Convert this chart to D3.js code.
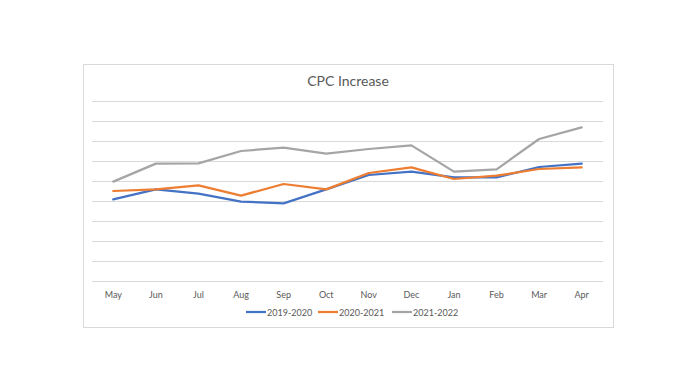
<html>
<head>
<script src="https://d3js.org/d3.v7.min.js"></script>
<style>
  body { margin: 0; background: #fff; }
  text { font-family: Lato, "Open Sans", sans-serif; fill: #595959; }
</style>
</head>
<body>
<svg id="chart" width="696" height="392"></svg>
<script>
var months = ["May", "Jun", "Jul", "Aug", "Sep", "Oct", "Nov", "Dec", "Jan", "Feb", "Mar", "Apr"];
var s2019 = [4.08, 4.58, 4.37, 3.97, 3.88, 4.58, 5.30, 5.47, 5.18, 5.18, 5.70, 5.87];
var s2020 = [4.50, 4.58, 4.78, 4.27, 4.85, 4.58, 5.40, 5.68, 5.10, 5.27, 5.60, 5.68];
var s2021 = [4.97, 5.87, 5.88, 6.50, 6.67, 6.37, 6.60, 6.78, 5.47, 5.58, 7.10, 7.68];
var seriesNames = ["2019-2020", "2020-2021", "2021-2022"];
var colors = ["#4472C4", "#ED7D31", "#A5A5A5"];
var yTicks = [0, 1, 2, 3, 4, 5, 6, 7, 8, 9];

var svg = d3.select("#chart");

// outer chart frame
svg.append("rect")
  .attr("x", 83.5).attr("y", 64.5)
  .attr("width", 530).attr("height", 263)
  .attr("fill", "#fff")
  .attr("stroke", "#d9d9d9");

var x = d3.scaleBand().domain(months).range([92, 603]);
var y = d3.scaleLinear().domain([0, 9]).range([281, 101]);

// gridlines
svg.append("g")
  .selectAll("line")
  .data(yTicks)
  .enter().append("line")
  .attr("x1", 92).attr("x2", 603)
  .attr("y1", function(d) { return Math.round(y(d)) + 0.5; })
  .attr("y2", function(d) { return Math.round(y(d)) + 0.5; })
  .attr("stroke", "#d9d9d9")
  .attr("stroke-width", 1);

// x axis labels
var xAxis = svg.append("g")
  .attr("transform", "translate(0,281)")
  .call(d3.axisBottom(x).tickSize(0).tickPadding(11));
xAxis.select(".domain").remove();
xAxis.selectAll("text")
  .style("font-family", "Lato, 'Open Sans', sans-serif")
  .style("font-size", "9px")
  .attr("fill", "#595959");

// title
svg.append("text")
  .attr("x", 348).attr("y", 86)
  .attr("text-anchor", "middle")
  .style("font-size", "14px")
  .text("CPC Increase");

// lines
var line = d3.line()
  .x(function(d, i) { return x(months[i]) + x.bandwidth() / 2; })
  .y(function(d) { return y(d); });

var allSeries = [s2019, s2020, s2021];
// draw in reverse order so blue sits on top like the reference? Excel draws in order
allSeries.forEach(function(s, i) {
  svg.append("path")
    .datum(s)
    .attr("d", line)
    .attr("fill", "none")
    .attr("stroke", colors[i])
    .attr("stroke-width", 2.25)
    .attr("stroke-linejoin", "round")
    .attr("stroke-linecap", "round");
});

// legend
var legendX = [246, 318, 392];
var legend = svg.append("g");
seriesNames.forEach(function(name, i) {
  legend.append("line")
    .attr("x1", legendX[i]).attr("x2", legendX[i] + 20)
    .attr("y1", 312).attr("y2", 312)
    .attr("stroke", colors[i])
    .attr("stroke-width", 2.25);
  legend.append("text")
    .attr("x", legendX[i] + 21).attr("y", 315.5)
    .style("font-size", "9px")
    .text(name);
});
</script>
</body>
</html>
